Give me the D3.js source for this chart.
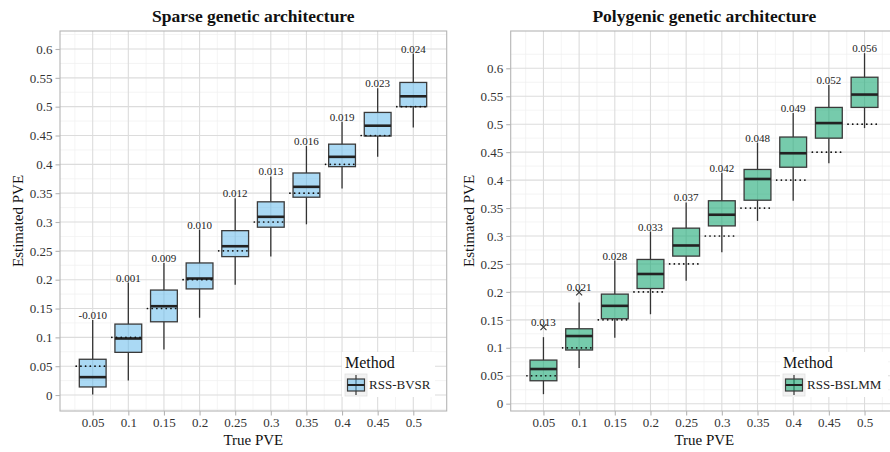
<!DOCTYPE html>
<html>
<head>
<meta charset="utf-8">
<script src="https://cdn.jsdelivr.net/npm/d3@7"></script>
<style>
  body { margin: 0; background: #fff; }
  svg { display: block; font-family: "Liberation Serif", "DejaVu Serif", serif; }
  svg text { font-family: "Liberation Serif", "DejaVu Serif", serif; }
</style>
</head>
<body>
<svg id="chart" width="890" height="452"></svg>
<script>
// True PVE categories (x axis) and tick labels
var truePVE = [0.05, 0.1, 0.15, 0.2, 0.25, 0.3, 0.35, 0.4, 0.45, 0.5];
var xTickLabels = ["0.05", "0.1", "0.15", "0.2", "0.25", "0.3", "0.35", "0.4", "0.45", "0.5"];
var yTicks = [0, 0.05, 0.1, 0.15, 0.2, 0.25, 0.3, 0.35, 0.4, 0.45, 0.5, 0.55, 0.6];
var yTickLabels = ["0", "0.05", "0.1", "0.15", "0.2", "0.25", "0.3", "0.35", "0.4", "0.45", "0.5", "0.55", "0.6"];

// Sparse genetic architecture (RSS-BVSR)
var sparseLow  = [0.001, 0.025, 0.079, 0.134, 0.191, 0.240, 0.296, 0.358, 0.413, 0.464];
var sparseQ1   = [0.014, 0.074, 0.127, 0.184, 0.240, 0.291, 0.343, 0.396, 0.449, 0.500];
var sparseMed  = [0.031, 0.098, 0.154, 0.202, 0.258, 0.309, 0.361, 0.413, 0.467, 0.518];
var sparseQ3   = [0.062, 0.123, 0.182, 0.229, 0.285, 0.335, 0.385, 0.435, 0.490, 0.542];
var sparseHigh = [0.130, 0.195, 0.229, 0.287, 0.341, 0.379, 0.432, 0.474, 0.532, 0.592];
var sparseOut  = [null, null, null, null, null, null, null, null, null, null];
var sparseLabels = ["-0.010", "0.001", "0.009", "0.010", "0.012", "0.013", "0.016", "0.019", "0.023", "0.024"];

// Polygenic genetic architecture (RSS-BSLMM)
var polyLow  = [0.017, 0.064, 0.118, 0.160, 0.220, 0.271, 0.327, 0.363, 0.430, 0.493];
var polyQ1   = [0.041, 0.096, 0.152, 0.206, 0.264, 0.318, 0.364, 0.423, 0.475, 0.530];
var polyMed  = [0.062, 0.121, 0.175, 0.232, 0.283, 0.338, 0.402, 0.448, 0.502, 0.553];
var polyQ3   = [0.078, 0.134, 0.196, 0.258, 0.314, 0.363, 0.419, 0.477, 0.530, 0.584];
var polyHigh = [0.119, 0.181, 0.256, 0.308, 0.360, 0.413, 0.467, 0.520, 0.570, 0.627];
var polyOut  = [0.137, 0.199, null, null, null, null, null, null, null, null];
var polyLabels = ["0.013", "0.021", "0.028", "0.033", "0.037", "0.042", "0.048", "0.049", "0.052", "0.056"];

var svg = d3.select("#chart");
var SERIF = "Liberation Serif";

function drawPanel(cfg) {
  var x = d3.scaleLinear().domain([0.0041, 0.5469]).range([cfg.left, cfg.right]);
  var y = d3.scaleLinear().domain(cfg.yDomain).range([411, 31]);
  var g = svg.append("g");

  // minor grid (midpoints)
  var xMinor = [0.025].concat(truePVE.map(function (d) { return d + 0.025; }));
  var yMinor = [-0.025].concat(yTicks.map(function (d) { return d + 0.025; }));
  yMinor = yMinor.filter(function (d) { return d > cfg.yDomain[0] && d < cfg.yDomain[1]; });

  g.selectAll(".vmin").data(xMinor).join("line")
    .attr("x1", function (d) { return x(d); }).attr("x2", function (d) { return x(d); })
    .attr("y1", 31).attr("y2", 411)
    .attr("stroke", "#efefef").attr("stroke-width", 0.7);
  g.selectAll(".hmin").data(yMinor).join("line")
    .attr("x1", cfg.left).attr("x2", cfg.right)
    .attr("y1", function (d) { return y(d); }).attr("y2", function (d) { return y(d); })
    .attr("stroke", "#efefef").attr("stroke-width", 0.7);
  g.selectAll(".vmaj").data(truePVE).join("line")
    .attr("x1", function (d) { return x(d); }).attr("x2", function (d) { return x(d); })
    .attr("y1", 31).attr("y2", 411)
    .attr("stroke", "#dcdcdc").attr("stroke-width", 1.1);
  g.selectAll(".hmaj").data(yTicks).join("line")
    .attr("x1", cfg.left).attr("x2", cfg.right)
    .attr("y1", function (d) { return y(d); }).attr("y2", function (d) { return y(d); })
    .attr("stroke", "#dcdcdc").attr("stroke-width", 1.1);

  var data = truePVE.map(function (t, i) {
    return { t: t, lo: cfg.low[i], q1: cfg.q1[i], med: cfg.med[i], q3: cfg.q3[i],
      hi: cfg.high[i], out: cfg.out[i], lab: cfg.labels[i] };
  });
  var hw = 0.0188;

  // whiskers
  g.selectAll(".wh").data(data).join("line")
    .attr("x1", function (d) { return x(d.t); }).attr("x2", function (d) { return x(d.t); })
    .attr("y1", function (d) { return y(d.q3); }).attr("y2", function (d) { return y(d.hi); })
    .attr("stroke", "#333").attr("stroke-width", 1.3);
  g.selectAll(".wl").data(data).join("line")
    .attr("x1", function (d) { return x(d.t); }).attr("x2", function (d) { return x(d.t); })
    .attr("y1", function (d) { return y(d.q1); }).attr("y2", function (d) { return y(d.lo); })
    .attr("stroke", "#333").attr("stroke-width", 1.3);

  // boxes
  g.selectAll(".box").data(data).join("rect")
    .attr("x", function (d) { return x(d.t - hw); })
    .attr("width", function (d) { return x(d.t + hw) - x(d.t - hw); })
    .attr("y", function (d) { return y(d.q3); })
    .attr("height", function (d) { return y(d.q1) - y(d.q3); })
    .attr("fill", cfg.fill).attr("fill-opacity", cfg.alpha)
    .attr("stroke", "#3a3a3a").attr("stroke-width", 1.3);
  g.selectAll(".med").data(data).join("line")
    .attr("x1", function (d) { return x(d.t - hw); }).attr("x2", function (d) { return x(d.t + hw); })
    .attr("y1", function (d) { return y(d.med); }).attr("y2", function (d) { return y(d.med); })
    .attr("stroke", "#222").attr("stroke-width", 2.6);

  // outliers
  var outs = data.filter(function (d) { return d.out != null; });
  g.selectAll(".out").data(outs).join("path")
    .attr("d", function (d) {
      var cx = x(d.t), cy = y(d.out), s = 3;
      return "M" + (cx - s) + "," + (cy - s) + "L" + (cx + s) + "," + (cy + s) +
        "M" + (cx - s) + "," + (cy + s) + "L" + (cx + s) + "," + (cy - s);
    })
    .attr("stroke", "#333").attr("stroke-width", 1.1).attr("fill", "none");

  // true PVE dotted reference
  g.selectAll(".ref").data(data).join("line")
    .attr("x1", function (d) { return x(d.t - 0.0232); }).attr("x2", function (d) { return x(d.t + 0.019); })
    .attr("y1", function (d) { return y(d.t); }).attr("y2", function (d) { return y(d.t); })
    .attr("stroke", "#111").attr("stroke-width", 1.7)
    .attr("stroke-linecap", "round")
    .attr("stroke-dasharray", "0.1,4.6");

  // labels
  g.selectAll(".lab").data(data).join("text")
    .attr("x", function (d) { return x(d.t); })
    .attr("y", function (d) { return y(d.out != null ? d.out : d.hi) - 1; })
    .attr("text-anchor", "middle").attr("font-size", 11).attr("fill", "#222")
    .text(function (d) { return d.lab; });

  // panel border
  g.append("rect").attr("x", cfg.left).attr("y", 31)
    .attr("width", cfg.right - cfg.left).attr("height", 380)
    .attr("fill", "none").attr("stroke", "#b5b5b5").attr("stroke-width", 1.1);

  // axes
  var xAxis = d3.axisBottom(x).tickValues(truePVE).tickSize(4.5).tickPadding(2.5)
    .tickFormat(function (d, i) { return xTickLabels[i]; });
  var ax = g.append("g").attr("transform", "translate(0,411)").call(xAxis);
  var yAxis = d3.axisLeft(y).tickValues(yTicks).tickSize(4.5).tickPadding(3)
    .tickFormat(function (d, i) { return yTickLabels[i]; });
  var ay = g.append("g").attr("transform", "translate(" + cfg.left + ",0)").call(yAxis);
  [ax, ay].forEach(function (a) {
    a.attr("font-family", SERIF).attr("font-size", 13);
    a.select(".domain").remove();
    a.selectAll(".tick line").attr("stroke", "#b5b5b5").attr("stroke-width", 1.1);
    a.selectAll(".tick text").attr("font-size", 13).attr("fill", "#333")
      .attr("font-family", SERIF);
  });

  // titles
  g.append("text").attr("x", (cfg.left + cfg.right) / 2).attr("y", 22)
    .attr("text-anchor", "middle").attr("font-size", 17.5).attr("font-weight", "bold")
    .attr("fill", "#111").text(cfg.title);
  g.append("text").attr("x", (cfg.left + cfg.right) / 2).attr("y", 445)
    .attr("text-anchor", "middle").attr("font-size", 15).attr("fill", "#111").text("True PVE");
  g.append("text").attr("transform", "translate(" + (cfg.left - 37) + ",221) rotate(-90)")
    .attr("text-anchor", "middle").attr("font-size", 15).attr("fill", "#111").text("Estimated PVE");

  // legend
  var lg = g.append("g").attr("transform", "translate(" + cfg.legendX + ",352)");
  lg.append("rect").attr("width", cfg.legendW).attr("height", 45).attr("fill", "#fff");
  lg.append("text").attr("x", 3).attr("y", 16).attr("font-size", 16).attr("fill", "#111").text("Method");
  var k = lg.append("g").attr("transform", "translate(3,22)");
  k.append("rect").attr("width", 22).attr("height", 22).attr("fill", "#f2f2f2")
    .attr("stroke", "#e0e0e0").attr("stroke-width", 0.8);
  k.append("line").attr("x1", 11).attr("x2", 11).attr("y1", 1).attr("y2", 21)
    .attr("stroke", "#333").attr("stroke-width", 1.2);
  k.append("rect").attr("x", 2.5).attr("y", 5).attr("width", 17).attr("height", 12)
    .attr("fill", cfg.fill).attr("fill-opacity", cfg.alpha)
    .attr("stroke", "#3a3a3a").attr("stroke-width", 1.2);
  k.append("line").attr("x1", 2.5).attr("x2", 19.5).attr("y1", 11).attr("y2", 11)
    .attr("stroke", "#222").attr("stroke-width", 2);
  lg.append("text").attr("x", 27).attr("y", 37).attr("font-size", 13).attr("fill", "#222").text(cfg.method);
}

drawPanel({
  left: 60, right: 446.7, yDomain: [-0.0277, 0.6312],
  low: sparseLow, q1: sparseQ1, med: sparseMed, q3: sparseQ3, high: sparseHigh,
  out: sparseOut, labels: sparseLabels,
  fill: "#56B4E9", alpha: 0.5, title: "Sparse genetic architecture",
  method: "RSS-BVSR", legendX: 342, legendW: 93
});
drawPanel({
  left: 510.7, right: 898, yDomain: [-0.0131, 0.6667],
  low: polyLow, q1: polyQ1, med: polyMed, q3: polyQ3, high: polyHigh,
  out: polyOut, labels: polyLabels,
  fill: "#1aa875", alpha: 0.6, title: "Polygenic genetic architecture",
  method: "RSS-BSLMM", legendX: 780, legendW: 108
});
</script>
</body>
</html>
